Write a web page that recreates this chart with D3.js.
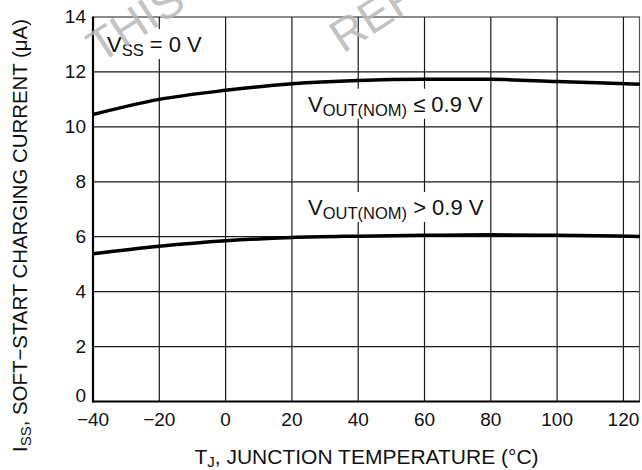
<!DOCTYPE html>
<html>
<head>
<meta charset="utf-8">
<script src="https://cdn.jsdelivr.net/npm/d3@7"></script>
<style>
  body { margin: 0; background: #fff; }
  svg { display: block; font-family: "Liberation Sans", Arial, sans-serif; }
</style>
</head>
<body>
<div id="chart"></div>
<script>
// Junction temperature (°C)
const temps = [-40, -20, 0, 20, 40, 60, 80, 100, 125];
// Soft-start charging current (uA)
const issLowVout = [10.45, 11.0, 11.33, 11.57, 11.69, 11.73, 11.73, 11.65, 11.55];
const issHighVout = [5.38, 5.65, 5.85, 5.97, 6.02, 6.05, 6.07, 6.05, 6.01];

const xTicks = [-40, -20, 0, 20, 40, 60, 80, 100, 120];
const yTicks = [0, 2, 4, 6, 8, 10, 12, 14];

const width = 642, height = 470;
const margin = { top: 17, right: 2, bottom: 68.5, left: 93 };

const svg = d3.select("#chart").append("svg")
    .attr("width", width)
    .attr("height", height);

const x = d3.scaleLinear()
    .domain([-40, 125])
    .range([margin.left, width - margin.right]);

const y = d3.scaleLinear()
    .domain([0, 14])
    .range([height - margin.bottom, margin.top]);

// grid
svg.append("g")
    .selectAll("line")
    .data(xTicks.slice(1))
    .enter().append("line")
    .attr("x1", d => x(d)).attr("x2", d => x(d))
    .attr("y1", y(0)).attr("y2", y(14))
    .attr("stroke", "#1a1a1a")
    .attr("stroke-width", 1.2);

svg.append("g")
    .selectAll("line")
    .data(yTicks.slice(1))
    .enter().append("line")
    .attr("x1", x(-40)).attr("x2", x(125))
    .attr("y1", d => y(d)).attr("y2", d => y(d))
    .attr("stroke", "#1a1a1a")
    .attr("stroke-width", 1.2);

// right border
svg.append("line")
    .attr("x1", x(125) - 0.5).attr("x2", x(125) - 0.5)
    .attr("y1", y(0)).attr("y2", y(14))
    .attr("stroke", "#555")
    .attr("stroke-width", 1.2);

// label boxes (white, cut the grid)
function label(xPos, yBase, main, sub, rest, boxW) {
    svg.append("rect")
        .attr("x", xPos - 5)
        .attr("y", yBase - 23)
        .attr("width", boxW)
        .attr("height", 30)
        .attr("fill", "#fff");
    const t = svg.append("text")
        .attr("x", xPos)
        .attr("y", yBase)
        .attr("font-size", 22)
        .attr("fill", "#111");
    t.append("tspan").text(main);
    t.append("tspan").attr("font-size", 16.5).attr("dy", 4).text(sub);
    t.append("tspan").attr("dy", -4).text(rest);
}

label(107, 52, "V", "SS", " = 0 V", 100);
label(308, 111.7, "V", "OUT(NOM)", " \u2264 0.9 V", 185);
label(308, 215, "V", "OUT(NOM)", " > 0.9 V", 185);

// axes lines (left + bottom thicker)
svg.append("line")
    .attr("x1", x(-40)).attr("x2", x(-40))
    .attr("y1", y(14) - 0.5).attr("y2", y(0) + 1)
    .attr("stroke", "#000")
    .attr("stroke-width", 2.2);
svg.append("line")
    .attr("x1", x(-40) - 1).attr("x2", x(125))
    .attr("y1", y(0)).attr("y2", y(0))
    .attr("stroke", "#000")
    .attr("stroke-width", 2.2);

// curves
const line = d3.line()
    .x((d, i) => x(temps[i]))
    .y(d => y(d))
    .curve(d3.curveMonotoneX);

[issLowVout, issHighVout].forEach(series => {
    svg.append("path")
        .datum(series)
        .attr("d", line)
        .attr("fill", "none")
        .attr("stroke", "#000")
        .attr("stroke-width", 3.5);
});

// watermark fragments, on top
const wm = svg.append("g").attr("fill", "#b8b8b8").attr("fill-opacity", 0.85).attr("font-size", 46);
wm.append("text")
    .attr("transform", "translate(100,64) rotate(-33)")
    .text("THIS");
wm.append("text")
    .attr("transform", "translate(343,54) rotate(-33)")
    .text("REF");

// tick labels
svg.append("g")
    .selectAll("text")
    .data(xTicks)
    .enter().append("text")
    .attr("x", d => x(d))
    .attr("y", 425.5)
    .attr("text-anchor", "middle")
    .attr("font-size", 19)
    .attr("fill", "#111")
    .text(d => d < 0 ? "\u2212" + Math.abs(d) : d);

svg.append("g")
    .selectAll("text")
    .data(yTicks)
    .enter().append("text")
    .attr("x", 86)
    .attr("y", d => y(d) + (d === 0 ? 0.5 : 6))
    .attr("text-anchor", "end")
    .attr("font-size", 19)
    .attr("fill", "#111")
    .text(d => d);

// axis titles
const xt = svg.append("text")
    .attr("x", (x(-40) + x(125)) / 2)
    .attr("y", 464)
    .attr("text-anchor", "middle")
    .attr("font-size", 21)
    .attr("fill", "#111");
xt.append("tspan").text("T");
xt.append("tspan").attr("font-size", 15).attr("dy", 3).text("J");
xt.append("tspan").attr("dy", -3).text(", JUNCTION TEMPERATURE (\u00B0C)");

const yt = svg.append("text")
    .attr("transform", "translate(27,235.5) rotate(-90)")
    .attr("text-anchor", "middle")
    .attr("font-size", 20.4)
    .attr("fill", "#111");
yt.append("tspan").text("I");
yt.append("tspan").attr("font-size", 15).attr("dy", 4).text("SS");
yt.append("tspan").attr("dy", -4).text(", SOFT\u2212START CHARGING CURRENT (\u03BCA)");
</script>
</body>
</html>
